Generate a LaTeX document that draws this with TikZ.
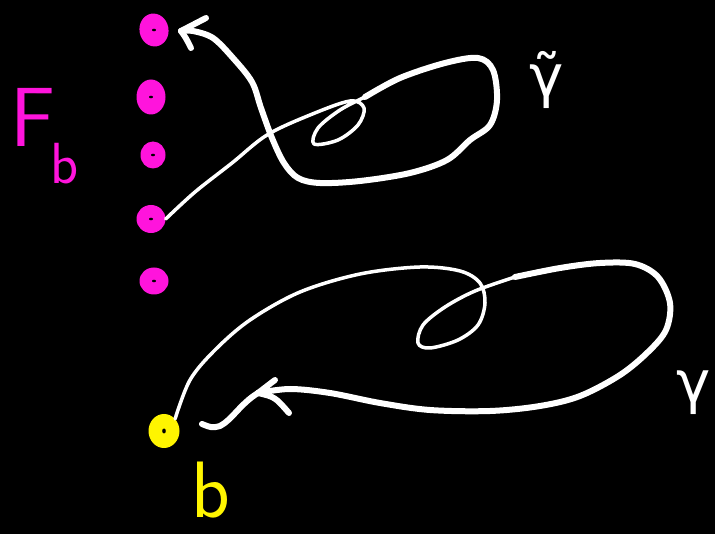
\documentclass[tikz,border=0pt]{standalone}
\usepackage{fontspec}
\usetikzlibrary{shapes.geometric}
\newfontfamily\dvs{DejaVu Sans}
\definecolor{mag}{RGB}{255,20,220}
\definecolor{yel}{RGB}{255,245,0}
\begin{document}
\begin{tikzpicture}[x=1pt,y=-1pt,line cap=round,line join=round,
  fdot/.style={ellipse,fill=mag,inner sep=0pt},
  ydot/.style={ellipse,fill=yel,inner sep=0pt},
  curve/.style={draw=white,line width=6pt},
  thin curve/.style={draw=white,line width=3.5pt},
  lbl/.style={inner sep=0pt}]
\fill[black] (0,0) rectangle (715,534);
\useasboundingbox (0,0) rectangle (715,534);
% fibre points
\node[fdot,minimum width=29pt,minimum height=33pt,rotate=10] (d1) at (154,30) {};
\node[fdot,minimum width=29pt,minimum height=35pt] (d2) at (151,97) {};
\node[fdot,minimum width=25pt,minimum height=27pt] (d3) at (153,155) {};
\node[fdot,minimum width=29pt,minimum height=28pt] (d4) at (151,219) {};
\node[fdot,minimum width=29pt,minimum height=27pt] (d5) at (154,281) {};
\foreach \d in {d1,d2,d3,d4,d5} \fill[black] (\d.center) ellipse (2pt and 1.3pt);
% base point
\node[ydot,minimum width=31pt,minimum height=34pt] (bp) at (164,431) {};
\fill[black] (bp.center) ellipse (1.8pt and 2.5pt);
% labels
\node[lbl,text=mag,font=\sffamily\fontsize{84}{84}\selectfont] (F) at (33,117) {F};
\node[lbl,text=mag,font=\sffamily\fontsize{58}{58}\selectfont] (Fsub) at (65,164) {b};
\node[lbl,text=yel,font=\sffamily\fontsize{80}{80}\selectfont] (blab) at (211,490) {b};
\node[lbl,text=white,font=\dvs\fontsize{58}{58}\selectfont] (gt) at (547,80) {γ̃};
\node[lbl,text=white,font=\dvs\fontsize{58}{58}\selectfont] (g) at (694,393) {γ};
% lifted path
\draw[thin curve] plot[smooth,tension=0.55] coordinates {(d4.east) (195,192) (232,163) (267,135) (310,115) (350,101) (364,108) (358,125) (338,140) (314,144) (318,128) (340,110) (365,97)};
\draw[curve] plot[smooth,tension=0.55] coordinates {(365,97) (400,78) (445,63) (478,58) (493,70) (497,100) (490,125) (470,140) (447,160) (410,173) (360,181) (320,183) (298,178) (284,163) (272,138) (261,108) (252,82) (233,58) (213,38) (193,31) (181,31)};
\draw[curve] (181,31) -- (206,18);
\draw[curve] (181,31) .. controls (186,38) .. (191,48);
% loop gamma
\draw[thin curve] plot[smooth,tension=0.55] coordinates {(bp.north east) (190,380) (215,350) (250,320) (300,292) (360,274) (420,267) (460,271) (480,283) (485,303) (478,325) (458,340) (430,348) (418,343) (423,325) (445,307) (475,291) (515,277)};
\draw[curve] plot[smooth,tension=0.55] coordinates {(515,277) (560,268) (600,263) (635,264) (658,277) (670,303) (666,330) (648,352) (620,375) (580,396) (540,406) (490,411) (430,410) (380,403) (330,393) (290,389) (258,393)};
\draw[curve] (258,393) -- (275,380);
\draw[curve] (258,393) .. controls (275,397) .. (289,413);
\draw[curve] (258,393) .. controls (240,404) and (232,420) .. (220,426) .. controls (212,428) .. (202,424);
\end{tikzpicture}
\end{document}
